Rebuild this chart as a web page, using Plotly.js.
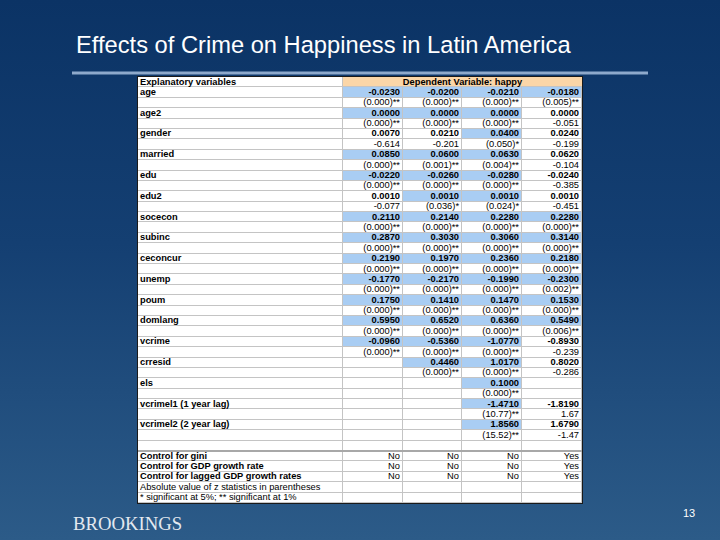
<!DOCTYPE html>
<html>
<head>
<meta charset="utf-8">
<script src="https://cdn.plot.ly/plotly-3.0.1.min.js"></script>
<style>
html,body{margin:0;padding:0;}
body{width:720px;height:540px;background:linear-gradient(to bottom,#0b3365 0%,#143f72 45%,#2c5b88 100%);}
#chart{width:720px;height:540px;}
</style>
</head>
<body>
<div id="chart"></div>
<script>
// ---- data ----
const titleText = "Effects of Crime on Happiness in Latin America";
const headerLeft = "Explanatory variables";
const headerRight = "Dependent Variable: happy";
const variables = ["age","age2","gender","married","edu","edu2","socecon","subinc","ceconcur","unemp","poum","domlang","vcrime","crresid","els","vcrimel1 (1 year lag)","vcrimel2 (2 year lag)"];
const coef1 = [-0.0230, 0.0000, 0.0070, 0.0850, -0.0220, 0.0010, 0.2110, 0.2870, 0.2190, -0.1770, 0.1750, 0.5950, -0.0960, null, null, null, null];
const zst1  = ["(0.000)**","(0.000)**","-0.614","(0.000)**","(0.000)**","-0.077","(0.000)**","(0.000)**","(0.000)**","(0.000)**","(0.000)**","(0.000)**","(0.000)**", "", "", "", ""];
const coef2 = [-0.0200, 0.0000, 0.0210, 0.0600, -0.0260, 0.0010, 0.2140, 0.3030, 0.1970, -0.2170, 0.1410, 0.6520, -0.5360, 0.4460, null, null, null];
const zst2  = ["(0.000)**","(0.000)**","-0.201","(0.001)**","(0.000)**","(0.036)*","(0.000)**","(0.000)**","(0.000)**","(0.000)**","(0.000)**","(0.000)**","(0.000)**","(0.000)**", "", "", ""];
const coef3 = [-0.0210, 0.0000, 0.0400, 0.0630, -0.0280, 0.0010, 0.2280, 0.3060, 0.2360, -0.1990, 0.1470, 0.6360, -1.0770, 1.0170, 0.1000, -1.4710, 1.8560];
const zst3  = ["(0.000)**","(0.000)**","(0.050)*","(0.004)**","(0.000)**","(0.024)*","(0.000)**","(0.000)**","(0.000)**","(0.000)**","(0.000)**","(0.000)**","(0.000)**","(0.000)**","(0.000)**","(10.77)**","(15.52)**"];
const coef4 = [-0.0180, 0.0000, 0.0240, 0.0620, -0.0240, 0.0010, 0.2280, 0.3140, 0.2180, -0.2300, 0.1530, 0.5490, -0.8930, 0.8020, null, -1.8190, 1.6790];
const zst4  = ["(0.005)**","-0.051","-0.199","-0.104","-0.385","-0.451","(0.000)**","(0.000)**","(0.000)**","(0.002)**","(0.000)**","(0.006)**","-0.239","-0.286", "", "1.67","-1.47"];
const controls = ["Control for gini","Control for GDP growth rate","Control for lagged GDP growth rates"];
const control1 = ["No","No","No"];
const control2 = ["No","No","No"];
const control3 = ["No","No","No"];
const control4 = ["Yes","Yes","Yes"];
const notes = ["Absolute value of z statistics in parentheses","* significant at 5%; ** significant at 1%"];
const slideNumber = "13";
const brand = "BROOKINGS";

// ---- build table grid ----
const coefs = [coef1, coef2, coef3, coef4];
const zsts = [zst1, zst2, zst3, zst4];
const ctrls = [control1, control2, control3, control4];
const colEdges = [0, 205, 265, 324, 384, 444];

const nRows = 1 + variables.length * 2 + 1 + controls.length + notes.length;
const grid = [];
const texts = [[],[],[],[],[]];
for (let r = 0; r < nRows; r++) { grid.push([0,0,0,0,0]); for (let c = 0; c < 5; c++) texts[c].push(""); }

grid[0] = [0,2,2,2,2];
texts[0][0] = "<b>" + headerLeft + "</b>";
variables.forEach((v, i) => {
  const r = 1 + i * 2;
  texts[0][r] = "<b>" + v + "</b>";
  for (let c = 0; c < 4; c++) {
    const val = coefs[c][i];
    if (val !== null) {
      texts[c+1][r] = "<b>" + val.toFixed(4) + "</b>";
      texts[c+1][r+1] = zsts[c][i];
      if (zsts[c][i].startsWith("(")) grid[r][c+1] = 1;
    }
  }
});
const blankRow = 1 + variables.length * 2;
let r0 = blankRow + 1;
controls.forEach((ctl, i) => {
  texts[0][r0 + i] = "<b>" + ctl + "</b>";
  for (let c = 0; c < 4; c++) texts[c+1][r0 + i] = ctrls[c][i];
});
r0 += controls.length;
notes.forEach((n, i) => { texts[0][r0 + i] = n; });

const rowIdx = [...Array(nRows).keys()];
const font = {family: "Liberation Sans, Arial, sans-serif", size: 9.3, color: "#000"};
const cscale = [[0,"#ffffff"],[0.333,"#ffffff"],[0.333,"#a9cdf3"],[0.667,"#a9cdf3"],[0.667,"#fbd6a8"],[1,"#fbd6a8"]];

const traces = [{
  type: "heatmap", z: grid, x: colEdges, y: rowIdx, zmin: 0, zmax: 2,
  colorscale: cscale, showscale: false, xgap: 1, ygap: 1, hoverinfo: "skip"
}, {
  // merged header cell over the four result columns
  type: "heatmap", z: [[2]], x: [colEdges[1] + 1, colEdges[5]], y: [0], zmin: 0, zmax: 2,
  colorscale: cscale, showscale: false, ygap: 1, hoverinfo: "skip"
}];
traces.push({type:"scatter", mode:"text", x: rowIdx.map(() => colEdges[0] + 2), y: rowIdx,
  text: texts[0], textposition: "middle right", textfont: font, hoverinfo: "skip", cliponaxis: false});
for (let c = 1; c < 5; c++) {
  traces.push({type:"scatter", mode:"text", x: rowIdx.map(() => colEdges[c+1] - 3), y: rowIdx,
    text: texts[c], textposition: "middle left", textfont: font, hoverinfo: "skip", cliponaxis: false});
}
traces.push({type:"scatter", mode:"text", x: [(colEdges[1] + colEdges[5]) / 2], y: [0],
  text: ["<b>" + headerRight + "</b>"], textposition: "middle center", textfont: font, hoverinfo: "skip"});

const layout = {
  width: 720, height: 540,
  margin: {l:0, r:0, t:0, b:0},
  paper_bgcolor: "rgba(0,0,0,0)",
  plot_bgcolor: "#c4c4c4",
  showlegend: false,
  hovermode: false,
  title: {text: titleText, x: 76/720, xanchor: "left", xref: "paper", y: 1 - 45/540, yref: "container", yanchor: "middle",
          font: {family: "Liberation Sans, Arial, sans-serif", size: 23.7, color: "#ffffff"}},
  xaxis: {domain: [138/720, 582/720], range: [colEdges[0], colEdges[5]], showgrid: false, zeroline: false,
          showticklabels: false, ticks: "", showline: true, mirror: true, linecolor: "#1a1a1a", linewidth: 1, fixedrange: true},
  yaxis: {domain: [37/540, 463/540], range: [nRows - 0.5, -0.5], showgrid: false, zeroline: false,
          showticklabels: false, ticks: "", showline: true, mirror: true, linecolor: "#1a1a1a", linewidth: 1, fixedrange: true},
  shapes: [
    {type: "line", xref: "paper", yref: "paper", x0: 72/720, x1: 648/720, y0: 1 - 73/540, y1: 1 - 73/540,
     line: {color: "#8ea9cb", width: 3}},
    {type: "line", xref: "x", yref: "y", x0: colEdges[0], x1: colEdges[5], y0: blankRow + 0.5, y1: blankRow + 0.5,
     line: {color: "#a8a8a8", width: 2}}
  ],
  annotations: [
    {text: brand, xref: "paper", yref: "paper", x: 71/720, y: 1 - 523/540, xanchor: "left", yanchor: "middle", showarrow: false,
     font: {family: "Liberation Serif, Times New Roman, serif", size: 18.7, color: "#e3e9f0"}},
    {text: slideNumber, xref: "paper", yref: "paper", x: 689/720, y: 1 - 513/540, xanchor: "center", yanchor: "middle", showarrow: false,
     font: {family: "Liberation Sans, Arial, sans-serif", size: 11, color: "#ffffff"}}
  ]
};

Plotly.newPlot("chart", traces, layout, {displayModeBar: false, staticPlot: true});
</script>
</body>
</html>
